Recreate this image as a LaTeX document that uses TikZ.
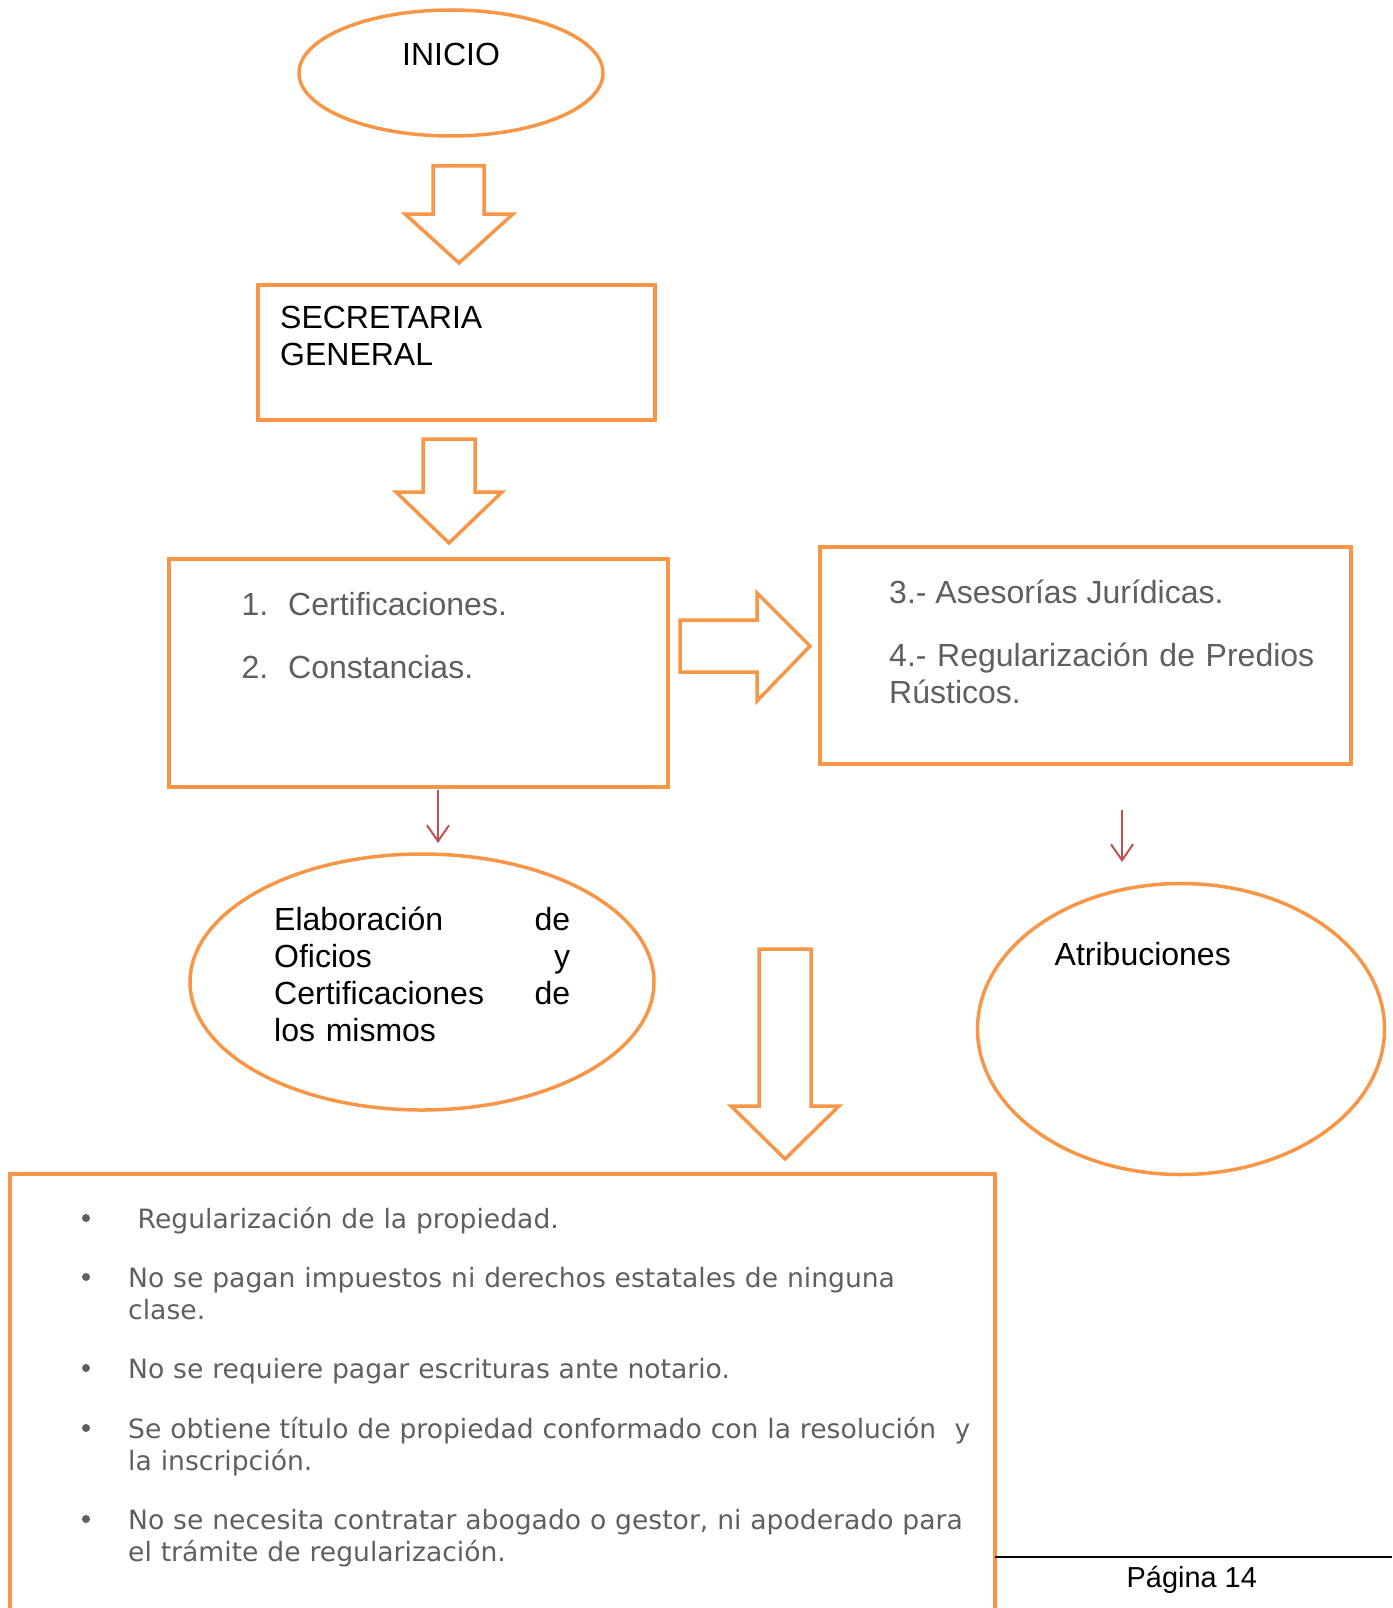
\documentclass[tikz,border=0pt]{standalone}
\usepackage{fontspec}
\setmainfont{Liberation Sans}
\newfontfamily\vinetafont{DejaVu Sans}
\usetikzlibrary{arrows.meta,shapes.geometric}
\definecolor{naranja}{HTML}{F79646}
\definecolor{rojo}{HTML}{C0504D}
\definecolor{gristexto}{HTML}{5F5F5F}

\begin{document}
\begin{tikzpicture}[x=1pt,y=-1pt]
        \tikzstyle{caja}=[draw=naranja,line width=4pt,rectangle,inner sep=0pt]
        \tikzstyle{ovalo}=[draw=naranja,line width=3.5pt,ellipse,inner sep=0pt]
        \tikzstyle{flecha}=[draw=naranja,line width=3.5pt,line join=miter,fill=white]
        \tikzstyle{guia}=[draw=rojo,line width=2pt,-{Straight Barb[length=16pt,width=22pt]}]
        \tikzstyle{negro}=[inner sep=0pt,anchor=base west,font=\fontsize{32}{37}\selectfont]
        \tikzstyle{gris}=[negro,text=gristexto]
        \tikzstyle{vineta}=[inner sep=0pt,anchor=base west,align=left,text width=842pt,
                            text=gristexto,font=\vinetafont\fontsize{26.6}{32}\selectfont]
        \tikzstyle{punto}=[circle,fill=gristexto,inner sep=0pt,minimum size=8pt]

        \useasboundingbox (0,0) rectangle (1392,1608);
        \clip (0,0) rectangle (1392,1608);

        % cajas y ovalos
        \node[ovalo,minimum width=304pt,minimum height=126pt]   (inicio) at (451,73)      { };
        \node[caja,minimum width=397pt,minimum height=135pt]    (secre)  at (456,352.5)   { };
        \node[caja,minimum width=499pt,minimum height=228pt]    (certif) at (418.5,673)   { };
        \node[caja,minimum width=531pt,minimum height=217pt]    (asesor) at (1085.5,655.5){ };
        \node[ovalo,minimum width=464pt,minimum height=256pt]   (elabor) at (422,982)     { };
        \node[ovalo,minimum width=407pt,minimum height=291pt]   (atrib)  at (1181,1029)   { };
        \node[caja,minimum width=985pt,minimum height=560pt]    (ventaja) at (502.5,1453.5) { };

        % textos
        \node[negro,anchor=base]      (tinicio) at (451,66)     {INICIO};
        \node[negro,text width=320pt,align=left] (tsecre) at (280,328.5) {SECRETARIA\\GENERAL};
        \node[gris]                   (num1)    at (241.5,615)  {1.};
        \node[gris]                   (tcert)   at (288,615)    {Certificaciones.};
        \node[gris]                   (num2)    at (241.5,678)  {2.};
        \node[gris]                   (tconst)  at (288,678)    {Constancias.};
        \node[gris]                   (tases)   at (889,603.5)  {3.- Asesorías Jurídicas.};
        \node[gris,text width=440pt,align=left] (tregu) at (889,666.5) {4.- Regularización de Predios\\Rústicos.};
        \node[negro,text width=296pt,align=left] (telab) at (274,930.5)
              {Elaboración\hfill de\\Oficios\hfill y\\Certificaciones\hfill de\\los mismos};
        \node[negro]                  (tatrib)  at (1054.5,965.5) {Atribuciones};

        % flechas gruesas
        \draw[flecha] (433,166) -- (484,166) -- (484,214) -- (513,214) -- (459,263)
                      -- (405,214) -- (433,214) -- cycle;
        \draw[flecha] (423,439) -- (475,439) -- (475,492) -- (502,492) -- (449,543)
                      -- (396,492) -- (423,492) -- cycle;
        \draw[flecha] (680,620) -- (757,620) -- (757,593) -- (810,646) -- (757,701)
                      -- (757,672) -- (680,672) -- cycle;
        \draw[flecha] (759,949) -- (811,949) -- (811,1106) -- (839,1106) -- (785,1159)
                      -- (731,1106) -- (759,1106) -- cycle;

        % flechas rojas
        \coordinate (r1a) at (438,790);
        \coordinate (r1b) at (438,843);
        \coordinate (r2a) at (1122,810);
        \coordinate (r2b) at (1122,862);
        \draw[guia] (r1a) -- (r1b);
        \draw[guia] (r2a) -- (r2b);

        % lista
        \node[punto] (p1) at (86,1218) { };
        \node[punto] (p2) at (86,1277) { };
        \node[punto] (p3) at (86,1368) { };
        \node[punto] (p4) at (86,1428) { };
        \node[punto] (p5) at (86,1519) { };
        \node[vineta] (v1) at (137.5,1228) {Regularización de la propiedad.};
        \node[vineta] (v2) at (128,1287) {No se pagan impuestos ni derechos estatales de ninguna\\clase.};
        \node[vineta] (v3) at (128,1378) {No se requiere pagar escrituras ante notario.};
        \node[vineta] (v4) at (128,1438) {Se obtiene título de propiedad conformado con la resolución\hfill y\\la inscripción.};
        \node[vineta] (v5) at (128,1529) {No se necesita contratar abogado o gestor, ni apoderado para\\el trámite de regularización.};

        % pie de pagina
        \coordinate (pieA) at (995,1557);
        \coordinate (pieB) at (1392,1557);
        \draw[line width=2pt] (pieA) -- (pieB);
        \node[negro,font=\fontsize{28.9}{33}\selectfont] (pagina) at (1126.5,1587) {Página 14};
\end{tikzpicture}
\end{document}
